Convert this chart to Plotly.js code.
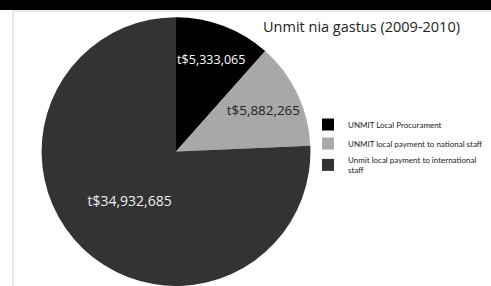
<!DOCTYPE html>
<html><head><meta charset="utf-8">
<script src="https://cdn.plot.ly/plotly-3.0.1.min.js"></script>
<style>html,body{margin:0;padding:0;background:#fff}#c{width:491px;height:286px}</style>
</head><body><div id="c"></div>
<script>
const labels = ["UNMIT Local Procurament", "UNMIT local payment to national staff", "Unmit local payment to international<br>staff"];
const values = [5333065, 5882265, 34932685];
const valueText = ["t$5,333,065", "t$5,882,265", "t$34,932,685"];
const colors = ["#000000", "#a8a8a8", "#333333"];
const textColors = ["#ffffff", "#222222", "#eeeeee"];
const titleText = "Unmit nia gastus (2009-2010)";

const W = 491, H = 286;
const trace = {
  type: "pie",
  labels: labels,
  values: values,
  text: valueText,
  textinfo: "text",
  textposition: "inside",
  insidetextorientation: "horizontal",
  insidetextfont: {family: "Open Sans, sans-serif", size: 14, color: textColors},
  marker: {colors: colors, line: {width: 0}},
  sort: false,
  direction: "clockwise",
  rotation: 0,
  hole: 0,
  domain: {x: [0.08, 0.637], y: [0.0, 0.94]}
};
const layout = {
  width: W, height: H,
  margin: {l: 0, r: 0, t: 0, b: 0, autoexpand: false},
  paper_bgcolor: "#ffffff",
  font: {family: "Open Sans, sans-serif", color: "#222"},
  title: {text: titleText, font: {family: "Open Sans, sans-serif", size: 14.5, color: "#222"},
          x: 263 / W, xanchor: "left", y: 1 - 27 / H, yanchor: "middle"},
  showlegend: true,
  legend: {x: 308 / W, y: 1 - 110 / H, xanchor: "left", yanchor: "top",
           font: {size: 8, color: "#222", family: "Lato, sans-serif"},
           bgcolor: "rgba(0,0,0,0)", itemwidth: 30, tracegroupgap: 0},
  shapes: [
    {type: "rect", xref: "paper", yref: "paper", x0: 0, x1: 1, y0: 1 - 10 / H, y1: 1, fillcolor: "#000", line: {width: 0}, layer: "above"},
    {type: "line", xref: "paper", yref: "paper", x0: 13 / W, x1: 13 / W, y0: 0, y1: 1 - 11 / H, line: {color: "#d0d0d0", width: 1}},
    {type: "line", xref: "paper", yref: "paper", x0: 13 / W, x1: 1, y0: 1 - 11 / H, y1: 1 - 11 / H, line: {color: "#d0d0d0", width: 1}}
  ]
};
Plotly.newPlot("c", [trace], layout, {displayModeBar: false, staticPlot: true});
</script></body></html>
